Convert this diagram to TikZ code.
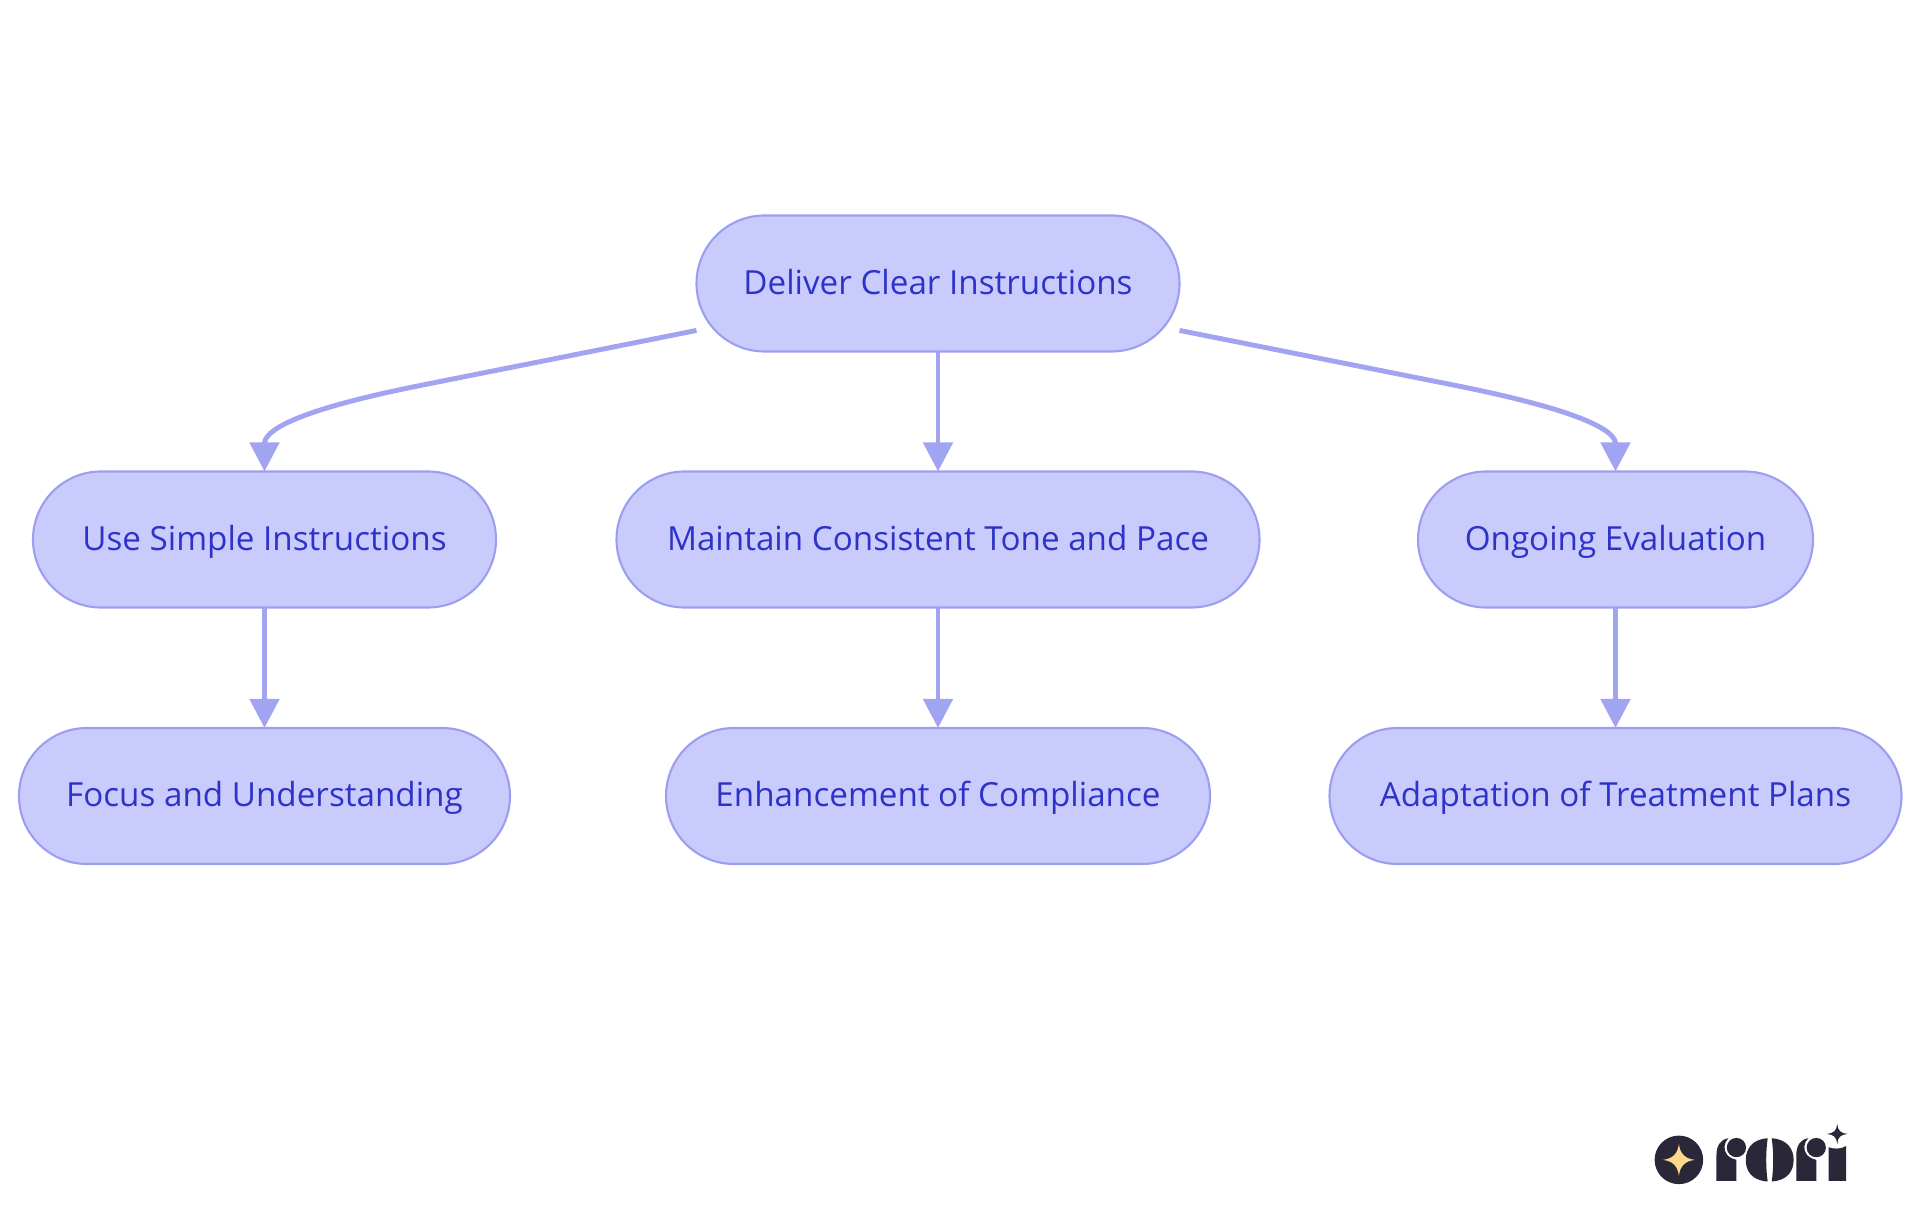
\documentclass[tikz,border=0pt]{standalone}
\usepackage{fontspec}
\setmainfont{Open Sans}
\usepackage{tikz}
\usetikzlibrary{arrows.meta}

\definecolor{boxfill}{HTML}{C9CBFD}
\definecolor{boxline}{HTML}{9C9FF0}
\definecolor{boxtext}{HTML}{2E33C7}
\definecolor{logodark}{HTML}{2A2838}
\definecolor{logostar}{HTML}{FBD88A}

\tikzset{
  box/.style={draw=boxline, fill=boxfill, text=boxtext, line width=0.6pt, rounded corners=0.68cm,
    minimum height=1.36cm, inner sep=0, outer sep=0, text height=0.30cm, text depth=0.08cm,
    font=\fontsize{9.45}{12}\selectfont},
  link/.style={draw=boxline!95!white, line width=1.4pt, -{Triangle[width=0.29cm,length=0.29cm]}}
}

\begin{document}
\begin{tikzpicture}
  \useasboundingbox (0,0) rectangle (19.2,12.15);

  \node[box, minimum width=4.83cm] (root) at (9.38,9.315) {Deliver Clear Instructions};

  \node[box, minimum width=4.63cm] (simple) at (2.645,6.755) {Use Simple Instructions};
  \node[box, minimum width=6.43cm] (tone) at (9.38,6.755) {Maintain Consistent Tone and Pace};
  \node[box, minimum width=3.95cm] (eval) at (16.155,6.755) {Ongoing Evaluation};

  \node[box, minimum width=4.91cm] (focus) at (2.645,4.19) {Focus and Understanding};
  \node[box, minimum width=5.44cm] (compliance) at (9.38,4.19) {Enhancement of Compliance};
  \node[box, minimum width=5.72cm] (plans) at (16.155,4.19) {Adaptation of Treatment Plans};

  \draw[link] (root.191) -- ++(-2.76,-0.55) .. controls +(-1.3,-0.26) and +(0,0.4) .. (simple.north);
  \draw[link] (root) -- (tone);
  \draw[link] (root.349) -- ++(2.76,-0.55) .. controls +(1.3,-0.26) and +(0,0.4) .. (eval.north);

  \draw[link] (simple) -- (focus);
  \draw[link] (tone) -- (compliance);
  \draw[link] (eval) -- (plans);

  % logo
  \begin{scope}[shift={(16.2,1.15)}, x=0.003333cm, y=-0.003333cm]
    \fill[logodark] (177,180) circle (73);
    \fill[logostar] (177,132) .. controls (181,162) and (195,176) .. (225,180) .. controls (195,184) and (181,198) .. (177,228)
      .. controls (173,198) and (159,184) .. (129,180) .. controls (159,176) and (173,162) .. (177,132) -- cycle;

    \foreach \dx in {0,240} {
      \begin{scope}[xshift=\dx*0.003333cm]
        \fill[logodark] (290,243) -- (290,165) .. controls (290,138) and (302,118) .. (326,115)
          .. controls (312,128) and (310,150) .. (322,165) .. controls (332,175) and (342,178) .. (350,180) -- (350,243) -- cycle;
        \fill[logodark] (350,143) circle (29);
      \end{scope}
    }

    \fill[logodark] (444,115) .. controls (395,118) and (378,150) .. (378,180) .. controls (378,212) and (395,242) .. (444,245)
      .. controls (438,205) and (438,155) .. (444,115) -- cycle;
    \fill[logodark] (456,115) .. controls (505,118) and (522,150) .. (522,180) .. controls (522,212) and (505,242) .. (456,245)
      .. controls (462,205) and (462,155) .. (456,115) -- cycle;

    \fill[logodark] (627,243) -- (627,142) .. controls (640,148) and (668,148) .. (680,138) -- (680,243) -- cycle;
    \fill[logodark] (653,72) .. controls (655,92) and (663,100) .. (684,102) .. controls (663,104) and (655,112) .. (653,132)
      .. controls (651,112) and (643,104) .. (622,102) .. controls (643,100) and (651,92) .. (653,72) -- cycle;
  \end{scope}
\end{tikzpicture}
\end{document}
